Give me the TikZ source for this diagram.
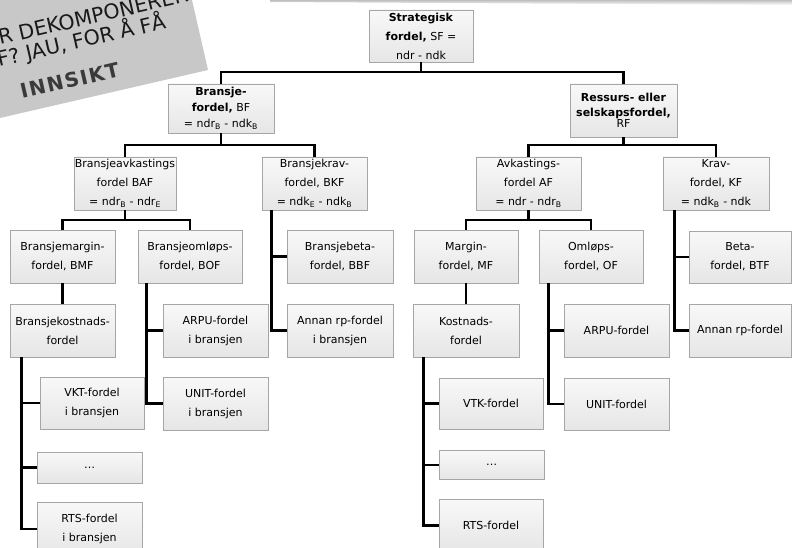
\documentclass[tikz,border=0pt]{standalone}
\usepackage{fontspec}
\setmainfont{DejaVu Sans}
\definecolor{boxtop}{HTML}{F8F8F8}
\definecolor{boxbot}{HTML}{E6E6E6}
\definecolor{boxline}{HTML}{A6A6A6}
\definecolor{banner}{HTML}{C8C8C8}
\definecolor{inkgray}{HTML}{3A3A3A}
\tikzset{
  box/.style={draw=boxline, line width=0.7pt, top color=boxtop, bottom color=boxbot,
    align=center, inner sep=1pt, minimum width=104pt, minimum height=53pt,
    font=\fontsize{11}{19}\selectfont},
  conn/.style={line width=2.7pt, black},
  bannertext/.style={rotate=13, anchor=base west, inner sep=0pt, text=black!90,
    font=\fontsize{20.5}{20.5}\selectfont}
}
\newcommand{\sub}[1]{\textsubscript{#1}}
\begin{document}
\begin{tikzpicture}[x=1pt,y=-1pt]
\useasboundingbox (0,0) rectangle (792,548);
\begin{scope}
\clip (0,0) rectangle (792,548);
\fill[white] (0,0) rectangle (792,548);
% faint shadow along the top edge
\shade[top color=black!25, bottom color=white] (270,0) -- (792,0) -- (792,5) -- (270,2) -- cycle;

% tilted grey banner
\fill[banner] (-60,131.8) -- (208,70) -- (189.7,-10) -- (-60,-10) -- cycle;
\node[bannertext] (b1) at (0,45) {R DEKOMPONERER};
\node[bannertext] (b2) at (-1,67) {F? JAU, FOR Å FÅ};
\node[bannertext, text=inkgray, font=\fontsize{20}{20}\selectfont\bfseries\addfontfeature{LetterSpace=7.5}] (b3) at (22,99) {INNSIKT};

% level 0 and 1
\node[box, minimum height=52pt] (SF) at (421,36) {\textbf{Strategisk}\\\textbf{fordel,} SF =\\ndr - ndk};
\node[box, minimum width=106pt, minimum height=49pt, font=\fontsize{11}{16}\selectfont] (BF) at (221,108.5)
  {\textbf{Bransje-}\\\textbf{fordel,} BF\\= ndr\sub{B} - ndk\sub{B}};
\node[box, minimum width=107pt, font=\fontsize{11}{15}\selectfont] (RF) at (623.5,110.5)
  {\textbf{Ressurs- eller}\\\textbf{selskapsfordel,}\\[-4pt]RF};

% level 2
\node[box, minimum width=102pt] (BAF) at (125,183.5) {Bransjeavkastings\\fordel BAF\\= ndr\sub{B} - ndr\sub{E}};
\node[box, minimum width=105pt] (BKF) at (314.5,183.5) {Bransjekrav-\\fordel, BKF\\= ndk\sub{E} - ndk\sub{B}};
\node[box, minimum width=105pt] (AF) at (528.5,183.5) {Avkastings-\\fordel AF\\= ndr - ndr\sub{B}};
\node[box, minimum width=106pt] (KF) at (716,183.5) {Krav-\\fordel, KF\\= ndk\sub{B} - ndk};

% level 3
\node[box, minimum width=105pt] (BMF) at (62.5,256.5) {Bransjemargin-\\fordel, BMF};
\node[box] (BOF) at (190,256.5) {Bransjeomløps-\\fordel, BOF};
\node[box, minimum width=106pt] (BBF) at (340,256.5) {Bransjebeta-\\fordel, BBF};
\node[box] (MF) at (466,256.5) {Margin-\\fordel, MF};
\node[box] (OF) at (591,256.5) {Omløps-\\fordel, OF};
\node[box, minimum width=102pt, minimum height=52pt] (BTF) at (740,257) {Beta-\\fordel, BTF};

% level 4
\node[box, minimum width=105pt] (BKOST) at (62.5,330.5) {Bransjekostnads-\\fordel};
\node[box, minimum width=105pt] (BARPU) at (215.5,330.5) {ARPU-fordel\\i bransjen};
\node[box, minimum width=106pt] (BANNAN) at (340,330.5) {Annan rp-fordel\\i bransjen};
\node[box, minimum width=106pt] (KOST) at (466,330.5) {Kostnads-\\fordel};
\node[box, minimum width=105pt] (ARPU) at (616.5,330.5) {ARPU-fordel};
\node[box, minimum width=102pt] (ANNAN) at (740,330.5) {Annan rp-fordel};

% level 5
\node[box, minimum height=52pt] (BVKT) at (92,403) {VKT-fordel\\i bransjen};
\node[box, minimum width=105pt] (BUNIT) at (215.5,403.5) {UNIT-fordel\\i bransjen};
\node[box, minimum height=51pt] (VTK) at (491,403.5) {VTK-fordel};
\node[box, minimum width=105pt, minimum height=52pt] (UNIT) at (616.5,404) {UNIT-fordel};
\node[box, minimum width=105pt, minimum height=31pt] (BDOTS) at (89.5,467.5) {…};
\node[box, minimum width=105pt, minimum height=29pt] (DOTS) at (491.5,465) {…};
\node[box, minimum width=105pt] (BRTS) at (89.5,529) {RTS-fordel\\i bransjen};
\node[box] (RTS) at (491,525.5) {RTS-fordel};

% connectors: horizontal bars under each parent
\coordinate (sfbar) at (421,72);
\draw[conn] (SF.south) -- (sfbar);
\draw[conn] (BF.north) |- (sfbar) -| (RF.north);

\coordinate (bfbar) at (221,145);
\draw[conn] (BF.south) -- (bfbar);
\draw[conn] (BAF.north) |- (bfbar) -| (BKF.north);

\coordinate (rfbar) at (623.5,145);
\draw[conn] (RF.south) -- (rfbar);
\draw[conn] (AF.north) |- (rfbar) -| (KF.north);

\coordinate (bafbar) at (125,220);
\draw[conn] (BAF.south) -- (bafbar);
\draw[conn] (BMF.north) |- (bafbar) -| (BOF.north);

\coordinate (afbar) at (528.5,220);
\draw[conn] (AF.south) -- (afbar);
\draw[conn] (MF.north) |- (afbar) -| (OF.north);

\draw[conn] (BMF.south) -- (BKOST.north);
\draw[conn] (MF.south) -- (KOST.north);

% side trunks to stacked children
\foreach \t in {BVKT,BDOTS,BRTS} \draw[conn] ([xshift=12pt]BKOST.south west) |- (\t.west);
\foreach \t in {BARPU,BUNIT} \draw[conn] ([xshift=9pt]BOF.south west) |- (\t.west);
\foreach \t in {BBF,BANNAN} \draw[conn] ([xshift=10pt]BKF.south west) |- (\t.west);
\foreach \t in {VTK,DOTS,RTS} \draw[conn] ([xshift=11pt]KOST.south west) |- (\t.west);
\foreach \t in {ARPU,UNIT} \draw[conn] ([xshift=10pt]OF.south west) |- (\t.west);
\foreach \t in {BTF,ANNAN} \draw[conn] ([xshift=12pt]KF.south west) |- (\t.west);
\end{scope}
\end{tikzpicture}
\end{document}
